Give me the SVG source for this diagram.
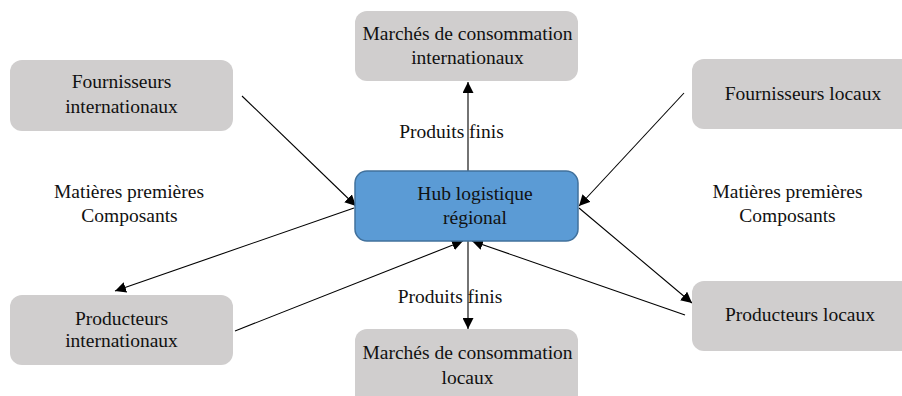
<svg xmlns="http://www.w3.org/2000/svg" width="902" height="396" viewBox="0 0 902 396">
<defs>
<style>
.box{fill:#d0cece;}
.hub{fill:#5b9bd5;stroke:#41719c;stroke-width:1.5;}
text{font-family:"Liberation Serif","Times New Roman",serif;font-size:19.5px;fill:#111;text-anchor:middle;}
.c{stroke:#000;stroke-width:1.1;fill:none;marker-end:url(#ah);}
</style>
<marker id="ah" viewBox="0 0 10 10" refX="10" refY="5" markerWidth="11" markerHeight="11" markerUnits="userSpaceOnUse" orient="auto">
<path d="M0,0 L10,5 L0,10 z" fill="#000"/>
</marker>
</defs>
<rect width="902" height="396" fill="#fff"/>
<g id="connectors">
<line class="c" x1="468" y1="171" x2="468" y2="82"/>
<line class="c" x1="468" y1="241" x2="468" y2="329"/>
<line class="c" x1="242" y1="96" x2="356" y2="206"/>
<line class="c" x1="354" y1="208" x2="115" y2="291"/>
<line class="c" x1="235" y1="331" x2="463" y2="241"/>
<line class="c" x1="684" y1="93" x2="579" y2="206"/>
<line class="c" x1="579" y1="208" x2="692" y2="303"/>
<line class="c" x1="685" y1="315" x2="472" y2="241"/>
</g>
<g id="hub">
<rect class="hub" x="355" y="171" width="223" height="70" rx="12"/>
<text x="475" y="200">Hub logistique</text>
<text x="475" y="224">régional</text>
</g>
<g id="marches-internationaux">
<rect class="box" x="355" y="11" width="223" height="70" rx="12"/>
<text x="467.5" y="40">Marchés de consommation</text>
<text x="467.5" y="64">internationaux</text>
</g>
<g id="marches-locaux">
<rect class="box" x="355" y="329" width="223" height="80" rx="12"/>
<text x="467.5" y="359">Marchés de consommation</text>
<text x="467.5" y="384">locaux</text>
</g>
<g id="fournisseurs-internationaux">
<rect class="box" x="10" y="60" width="223" height="71" rx="12"/>
<text x="121.5" y="88">Fournisseurs</text>
<text x="121.5" y="113">internationaux</text>
</g>
<g id="producteurs-internationaux">
<rect class="box" x="10" y="295" width="223" height="70" rx="12"/>
<text x="121.5" y="325">Producteurs</text>
<text x="121.5" y="347">internationaux</text>
</g>
<g id="fournisseurs-locaux">
<rect class="box" x="692" y="59" width="223" height="70" rx="12"/>
<text x="803" y="100">Fournisseurs locaux</text>
</g>
<g id="producteurs-locaux">
<rect class="box" x="692" y="281" width="223" height="70" rx="12"/>
<text x="800" y="321">Producteurs locaux</text>
</g>
<g id="labels">
<text x="451.5" y="138">Produits finis</text>
<text x="450" y="303">Produits finis</text>
<text x="129" y="198">Matières premières</text>
<text x="129.5" y="222">Composants</text>
<text x="787.5" y="198">Matières premières</text>
<text x="787.5" y="222">Composants</text>
</g>
</svg>
